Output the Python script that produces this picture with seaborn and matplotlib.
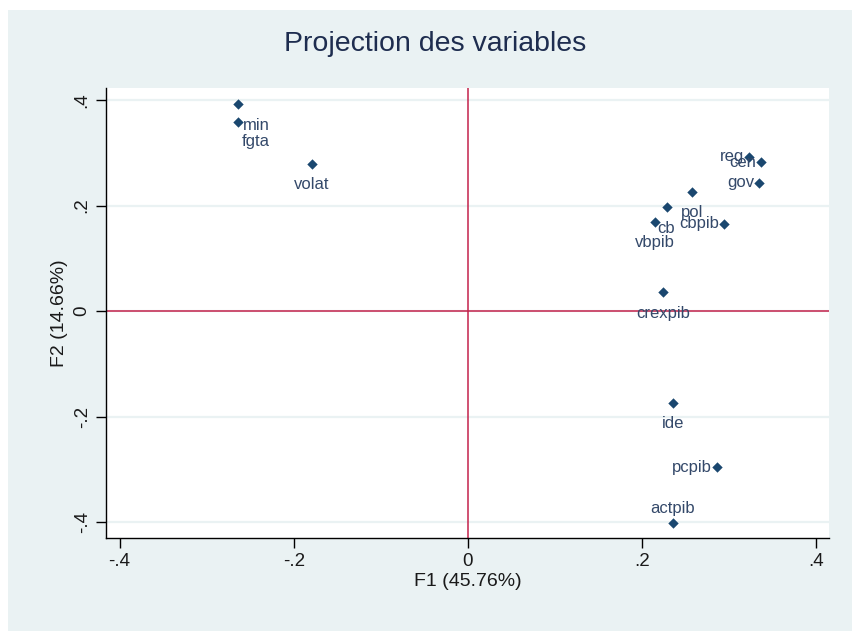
import matplotlib
matplotlib.use("Agg")
import matplotlib.pyplot as plt
import seaborn as sns
import pandas as pd
from matplotlib.patches import Rectangle

# ---- data ----
variables = ["min", "fgta", "volat", "reg", "cen", "gov", "pol", "cb",
             "cbpib", "vbpib", "crexpib", "ide", "pcpib", "actpib"]
f1 = [-0.264, -0.264, -0.179, 0.323, 0.336, 0.334, 0.257, 0.228,
      0.294, 0.215, 0.224, 0.235, 0.286, 0.235]
f2 = [0.392, 0.358, 0.279, 0.292, 0.282, 0.243, 0.226, 0.197,
      0.165, 0.169, 0.036, -0.174, -0.296, -0.402]
# label placement (Stata-like clock positions)
label_pos = ["min", "fgta", 6, 9, 9, 9, 6, 6, 9, 6, 6, 6, 9, 12]

xticks = [-0.4, -0.2, 0, 0.2, 0.4]
xticklabels = ["-.4", "-.2", "0", ".2", ".4"]
yticks = [-0.4, -0.2, 0, 0.2, 0.4]
yticklabels = ["-.4", "-.2", "0", ".2", ".4"]

df = pd.DataFrame({"var": variables, "F1": f1, "F2": f2})

sns.set_theme(style="white")
plt.rcParams["font.family"] = ["Liberation Sans", "DejaVu Sans"]

bg = "#eaf2f3"
navy = "#1a476f"
red = "#c4224b"

fig = plt.figure(figsize=(8.53, 6.31), dpi=100, facecolor="white")
fig.patches.append(Rectangle((8 / 853, 0), 1, 621 / 631, transform=fig.transFigure,
                             facecolor=bg, edgecolor="none", zorder=-10))
ax = fig.add_axes([106 / 853, 93 / 631, 723 / 853, 450 / 631])
ax.set_facecolor("white")

ax.set_xlim(-0.4156, 0.4145)
ax.set_ylim(-0.430, 0.4227)

for t in yticks:
    ax.axhline(t, color=bg, lw=1.6, zorder=0)
ax.axhline(0, color=red, lw=1.1, zorder=1)
ax.axvline(0, color=red, lw=1.1, zorder=1)

sns.scatterplot(data=df, x="F1", y="F2", marker="D", color=navy, s=28,
                edgecolor=navy, linewidth=0, ax=ax, zorder=3)

offsets = {6: (0, -21, "center", "center"),
           9: (-5, 0, "right", "center"),
           12: (0, 15, "center", "center"),
           "min": (5, -21, "left", "center"),
           "fgta": (4, -19, "left", "center")}
for name, x, y, p in zip(variables, f1, f2, label_pos):
    dx, dy, ha, va = offsets[p]
    ax.annotate(name, (x, y), xytext=(dx, dy), textcoords="offset pixels",
                ha=ha, va=va, fontsize=12, color="#34496a", zorder=4)

for s in ["top", "right"]:
    ax.spines[s].set_visible(False)
for s in ["left", "bottom"]:
    ax.spines[s].set_color("black")
    ax.spines[s].set_linewidth(1.0)

ax.set_xticks(xticks)
ax.set_xticklabels(xticklabels)
ax.set_yticks(yticks)
ax.set_yticklabels(yticklabels, rotation=90, va="center")
ax.tick_params(axis="both", direction="out", length=7, width=1, color="black",
               labelsize=13.5, labelcolor="#1a1a1a", bottom=True, left=True, pad=4)

ax.set_xlabel("F1 (45.76%)", fontsize=14, color="#1a1a1a", labelpad=2)
ax.set_ylabel("F2 (14.66%)", fontsize=14, color="#1a1a1a", labelpad=4)

fig.text(435 / 853, 1 - 44 / 631, "Projection des variables", ha="center", va="center",
         fontsize=20.5, color="#1e2d4f")

fig.savefig("out.png", dpi=100, facecolor=fig.get_facecolor())
